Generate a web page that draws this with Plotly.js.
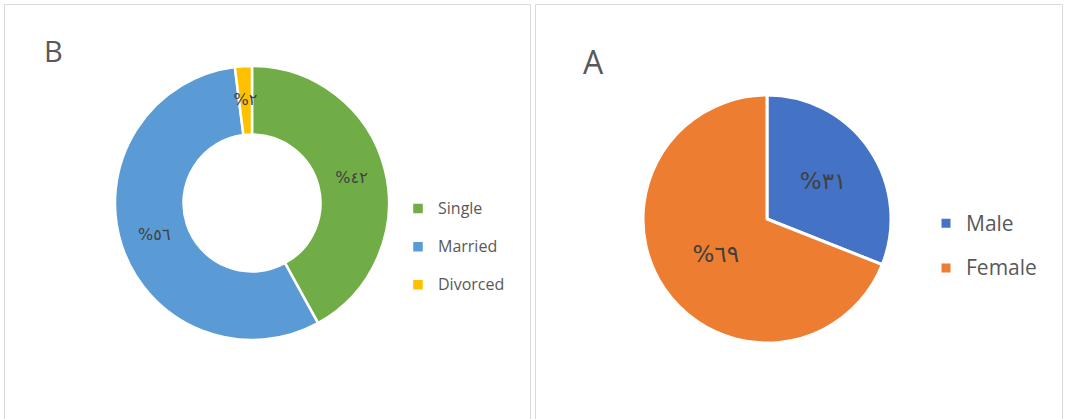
<!DOCTYPE html>
<html>
<head>
<meta charset="utf-8">
<script src="https://cdn.plot.ly/plotly-3.0.1.min.js"></script>
<style>html,body{margin:0;padding:0;background:#fff;}#chart{width:1065px;height:419px;}</style>
</head>
<body>
<div id="chart"></div>
<script>
// ---- data ----
const maritalLabels = ['Single', 'Married', 'Divorced'];
const maritalValues = [42, 56, 2];
const maritalColors = ['#70AD47', '#5B9BD5', '#FFC000'];

const genderLabels = ['Male', 'Female'];
const genderValues = [31, 69];
const genderColors = ['#4472C4', '#ED7D31'];

const panelTitles = ['B', 'A'];

// ---- helpers ----
const W = 1065, H = 419;
const px = v => v / W;
const py = v => (H - v) / H;
const arabicDigits = '٠١٢٣٤٥٦٧٨٩';
const toArabicPct = n => '%' + String(n).replace(/\d/g, d => arabicDigits[d]);
// legend label styling (visible size smaller than the legend line pitch)
const legendLabel = (size, shift) => l =>
  '<span style="font-size:' + size + 'px;baseline-shift:' + shift + 'px">' + l + '</span>';

const labelFont = {family: 'DejaVu Sans, Open Sans, sans-serif', size: 16, color: '#404040'};

// donut B: wide slices get their label on the ring
const donut = {
  type: 'pie',
  labels: maritalLabels.map(legendLabel(16, 4.8)),
  values: maritalValues,
  text: maritalValues.map(toArabicPct),
  textinfo: 'text',
  textposition: maritalValues.map(v => v >= 5 ? 'inside' : 'none'),
  insidetextorientation: 'horizontal',
  textfont: labelFont,
  hole: 0.5,
  sort: false,
  direction: 'clockwise',
  rotation: 0,
  marker: {colors: maritalColors, line: {color: '#ffffff', width: 2.5}},
  domain: {x: [px(115), px(389)], y: [py(340), py(66)]},
  legend: 'legend',
  hoverinfo: 'label+percent'
};

// same data, transparent, smaller radius: carries the label of the thin slice
const donutThinLabels = {
  type: 'pie',
  labels: maritalLabels,
  values: maritalValues,
  text: maritalValues.map(toArabicPct),
  textinfo: 'text',
  textposition: maritalValues.map(v => v >= 5 ? 'none' : 'inside'),
  insidetextorientation: 'horizontal',
  textfont: labelFont,
  hole: 0.5,
  sort: false,
  direction: 'clockwise',
  rotation: 0,
  marker: {colors: ['rgba(0,0,0,0)', 'rgba(0,0,0,0)', 'rgba(0,0,0,0)'], line: {width: 0}},
  domain: {x: [px(252 - 110), px(252 + 110)], y: [py(203 + 110), py(203 - 110)]},
  showlegend: false,
  hoverinfo: 'skip'
};

const pie = {
  type: 'pie',
  labels: genderLabels.map(legendLabel(21, 5)),
  values: genderValues,
  text: genderValues.map(toArabicPct),
  textinfo: 'text',
  texttemplate: '<span style="font-size:23px">%{text}</span>',
  textposition: 'inside',
  insidetextorientation: 'horizontal',
  textfont: labelFont,
  sort: false,
  direction: 'clockwise',
  rotation: 0,
  marker: {colors: genderColors, line: {color: '#ffffff', width: 3}},
  domain: {x: [px(643), px(891)], y: [py(343), py(95)]},
  legend: 'legend2',
  hoverinfo: 'label+percent'
};

const layout = {
  width: W, height: H,
  margin: {l: 0, r: 0, t: 0, b: 0},
  paper_bgcolor: '#ffffff',
  font: {family: 'Open Sans, sans-serif', color: '#595959'},
  uniformtext: {mode: 'show', minsize: 16},
  showlegend: true,
  legend: {
    x: px(398), xanchor: 'left', y: py(247), yanchor: 'middle',
    font: {size: 27, color: '#595959', family: 'Open Sans, sans-serif'},
    bgcolor: 'rgba(0,0,0,0)'
  },
  legend2: {
    x: px(926), xanchor: 'left', y: py(246), yanchor: 'middle',
    font: {size: 32, color: '#595959', family: 'Open Sans, sans-serif'},
    bgcolor: 'rgba(0,0,0,0)'
  },
  shapes: [
    {type: 'rect', xref: 'paper', yref: 'paper', x0: px(4.5), x1: px(530.5), y0: py(430), y1: py(4.5),
     line: {color: '#D9D9D9', width: 1}, fillcolor: 'rgba(0,0,0,0)'},
    {type: 'rect', xref: 'paper', yref: 'paper', x0: px(535.5), x1: px(1062.5), y0: py(430), y1: py(4.5),
     line: {color: '#D9D9D9', width: 1}, fillcolor: 'rgba(0,0,0,0)'}
  ],
  annotations: [
    {text: panelTitles[0], xref: 'paper', yref: 'paper', x: px(42), y: py(51), xanchor: 'left', yanchor: 'middle',
     showarrow: false, font: {size: 29, color: '#595959', family: 'Open Sans, sans-serif'}},
    {text: panelTitles[1], xref: 'paper', yref: 'paper', x: px(581), y: py(61), xanchor: 'left', yanchor: 'middle',
     showarrow: false, font: {size: 32, color: '#595959', family: 'Open Sans, sans-serif'}}
  ]
};

Plotly.newPlot('chart', [donut, donutThinLabels, pie], layout, {displayModeBar: false, staticPlot: true});
</script>
</body>
</html>
